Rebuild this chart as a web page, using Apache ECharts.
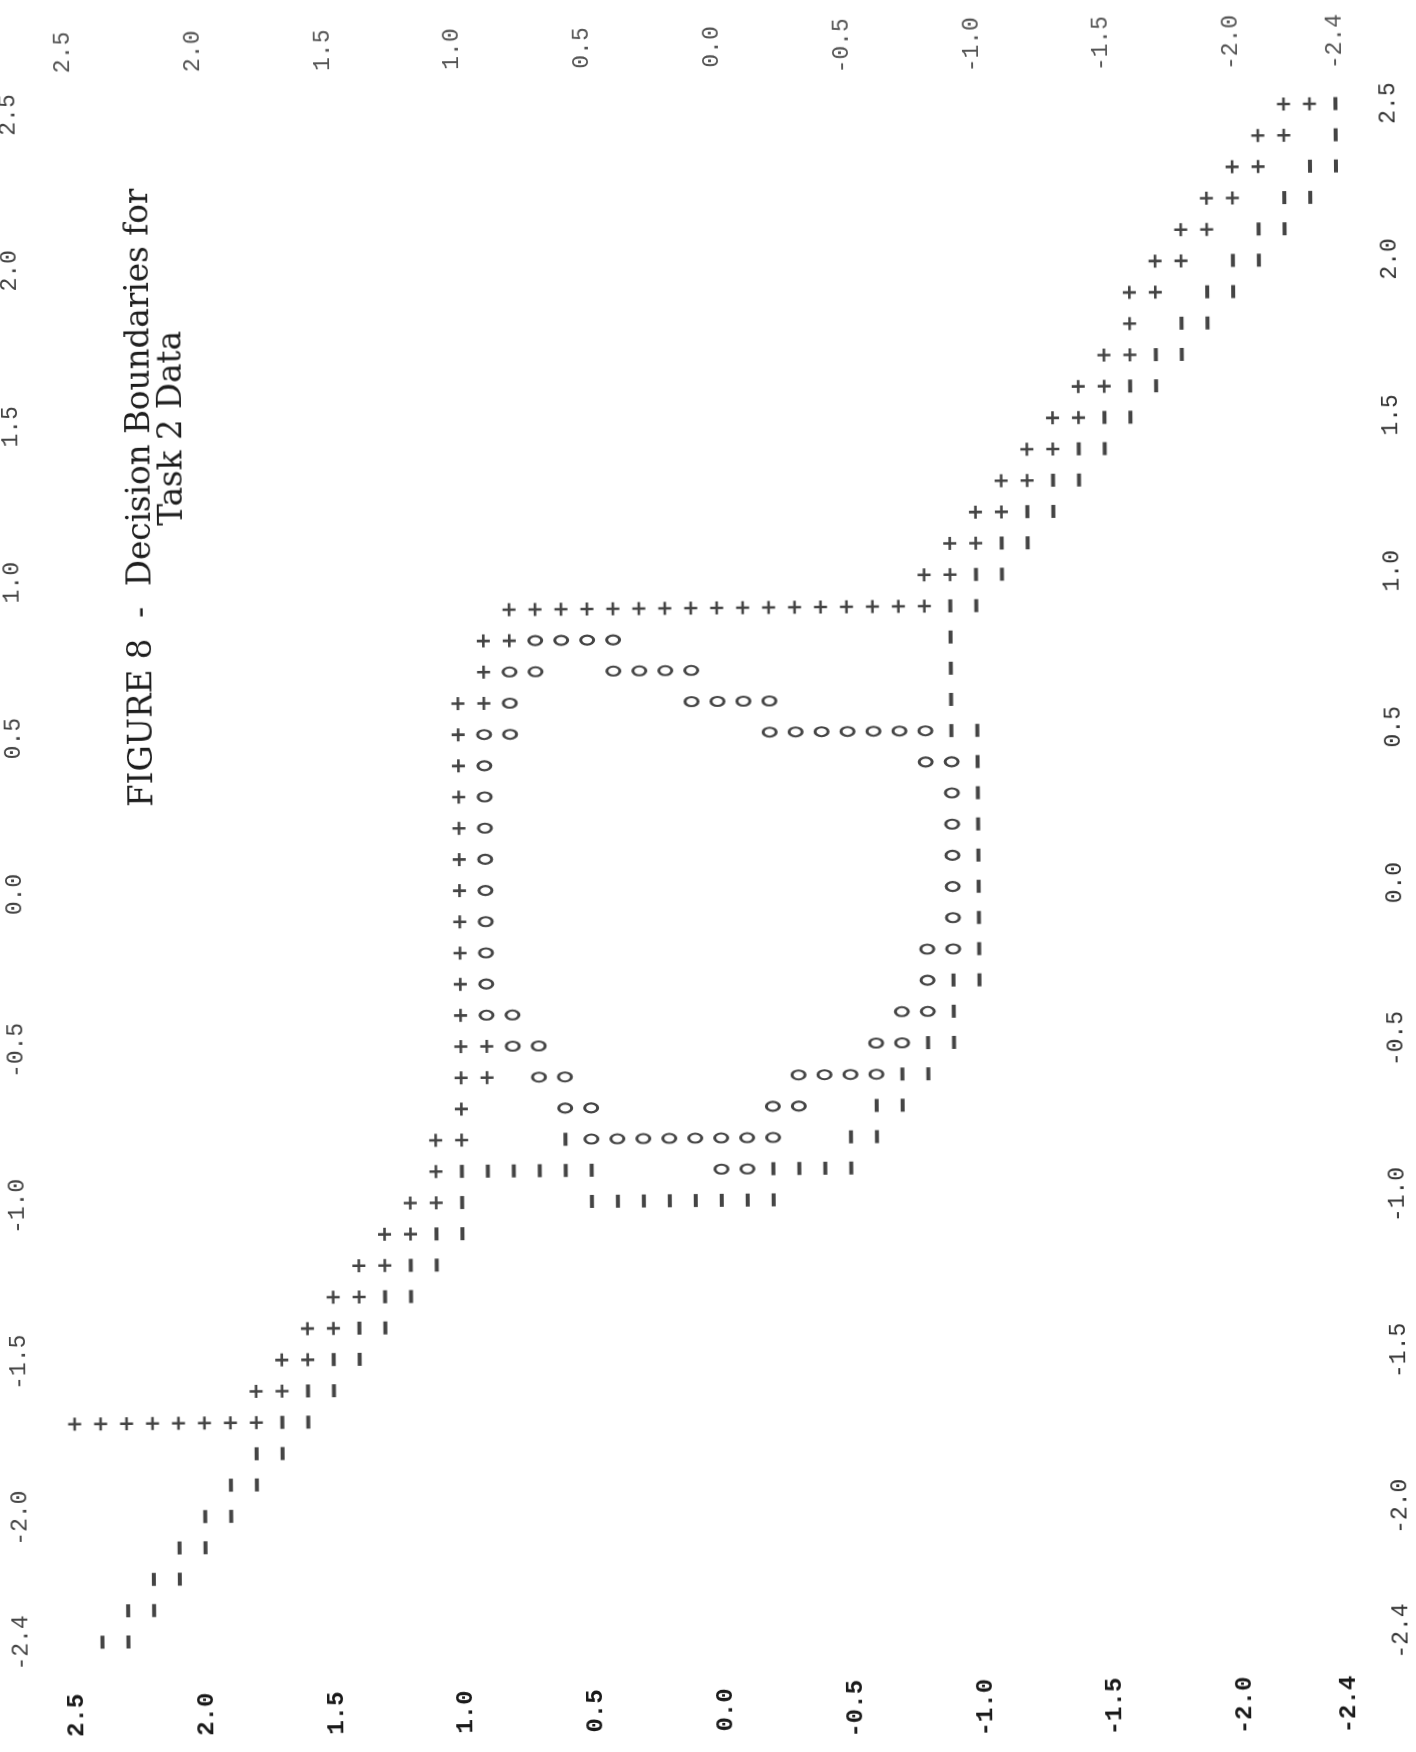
<!DOCTYPE html>
<html>
<head>
<meta charset="utf-8">
<script src="https://cdn.jsdelivr.net/npm/echarts@6/dist/echarts.min.js"></script>
<style>
html,body{margin:0;padding:0;background:#fff;overflow:hidden}
#chart{width:1416px;height:1752px;transform:rotate(-0.49deg);transform-origin:708px 876px}
</style>
</head>
<body>
<div id="chart"></div>
<script>
// Tick labels (same on both axes)
const hTickLabels = [2.5, 2.0, 1.5, 1.0, 0.5, 0.0, -0.5, -1.0, -1.5, -2.0, -2.4];
const vTickLabels = [2.5, 2.0, 1.5, 1.0, 0.5, 0.0, -0.5, -1.0, -1.5, -2.0, -2.4];

const titleLine1 = 'FIGURE 8  -  Decision Boundaries for';
const titleLine2 = 'Task 2 Data';

// Printed cells, by row: [vertical value, [horizontal values]]
const plusRows = [
  [2.5, [-2.2, -2.3]],
  [2.4, [-2.1, -2.2]],
  [2.3, [-2.0, -2.1]],
  [2.2, [-1.9, -2.0]],
  [2.1, [-1.8, -1.9]],
  [2.0, [-1.7, -1.8]],
  [1.9, [-1.6, -1.7]],
  [1.8, [-1.6]],
  [1.7, [-1.5, -1.6]],
  [1.6, [-1.4, -1.5]],
  [1.5, [-1.3, -1.4]],
  [1.4, [-1.2, -1.3]],
  [1.3, [-1.1, -1.2]],
  [1.2, [-1.0, -1.1]],
  [1.1, [-0.9, -1.0]],
  [1.0, [-0.8, -0.9]],
  [0.9, [0.8, 0.7, 0.6, 0.5, 0.4, 0.3, 0.2, 0.1, 0.0, -0.1, -0.2, -0.3, -0.4, -0.5, -0.6, -0.7, -0.8]],
  [0.8, [0.9, 0.8]],
  [0.7, [0.9]],
  [0.6, [1.0, 0.9]],
  [0.5, [1.0]],
  [0.4, [1.0]],
  [0.3, [1.0]],
  [0.2, [1.0]],
  [0.1, [1.0]],
  [0.0, [1.0]],
  [-0.1, [1.0]],
  [-0.2, [1.0]],
  [-0.3, [1.0]],
  [-0.4, [1.0]],
  [-0.5, [1.0, 0.9]],
  [-0.6, [1.0, 0.9]],
  [-0.7, [1.0]],
  [-0.8, [1.1, 1.0]],
  [-0.9, [1.1]],
  [-1.0, [1.2, 1.1]],
  [-1.1, [1.3, 1.2]],
  [-1.2, [1.4, 1.3]],
  [-1.3, [1.5, 1.4]],
  [-1.4, [1.6, 1.5]],
  [-1.5, [1.7, 1.6]],
  [-1.6, [1.8, 1.7]],
  [-1.7, [2.5, 2.4, 2.3, 2.2, 2.1, 2.0, 1.9, 1.8]]
];

const circleRows = [
  [0.8, [0.7, 0.6, 0.5, 0.4]],
  [0.7, [0.8, 0.7, 0.4, 0.3, 0.2, 0.1]],
  [0.6, [0.8, 0.1, 0.0, -0.1, -0.2]],
  [0.5, [0.9, 0.8, -0.2, -0.3, -0.4, -0.5, -0.6, -0.7, -0.8]],
  [0.4, [0.9, -0.8, -0.9]],
  [0.3, [0.9, -0.9]],
  [0.2, [0.9, -0.9]],
  [0.1, [0.9, -0.9]],
  [0.0, [0.9, -0.9]],
  [-0.1, [0.9, -0.9]],
  [-0.2, [0.9, -0.8, -0.9]],
  [-0.3, [0.9, -0.8]],
  [-0.4, [0.9, 0.8, -0.7, -0.8]],
  [-0.5, [0.8, 0.7, -0.6, -0.7]],
  [-0.6, [0.7, 0.6, -0.3, -0.4, -0.5, -0.6]],
  [-0.7, [0.6, 0.5, -0.2, -0.3]],
  [-0.8, [0.5, 0.4, 0.3, 0.2, 0.1, 0.0, -0.1, -0.2]],
  [-0.9, [0.0, -0.1]]
];

const minusRows = [
  [2.5, [-2.4]],
  [2.4, [-2.4]],
  [2.3, [-2.3, -2.4]],
  [2.2, [-2.2, -2.3]],
  [2.1, [-2.1, -2.2]],
  [2.0, [-2.0, -2.1]],
  [1.9, [-1.9, -2.0]],
  [1.8, [-1.8, -1.9]],
  [1.7, [-1.7, -1.8]],
  [1.6, [-1.6, -1.7]],
  [1.5, [-1.5, -1.6]],
  [1.4, [-1.4, -1.5]],
  [1.3, [-1.3, -1.4]],
  [1.2, [-1.2, -1.3]],
  [1.1, [-1.1, -1.2]],
  [1.0, [-1.0, -1.1]],
  [0.9, [-0.9, -1.0]],
  [0.8, [-0.9]],
  [0.7, [-0.9]],
  [0.6, [-0.9]],
  [0.5, [-0.9, -1.0]],
  [0.4, [-1.0]],
  [0.3, [-1.0]],
  [0.2, [-1.0]],
  [0.1, [-1.0]],
  [0.0, [-1.0]],
  [-0.1, [-1.0]],
  [-0.2, [-1.0]],
  [-0.3, [-0.9, -1.0]],
  [-0.4, [-0.9]],
  [-0.5, [-0.8, -0.9]],
  [-0.6, [-0.7, -0.8]],
  [-0.7, [-0.6, -0.7]],
  [-0.8, [0.6, -0.5, -0.6]],
  [-0.9, [1.0, 0.9, 0.8, 0.7, 0.6, 0.5, -0.2, -0.3, -0.4, -0.5]],
  [-1.0, [1.0, 0.5, 0.4, 0.3, 0.2, 0.1, 0.0, -0.1, -0.2]],
  [-1.1, [1.1, 1.0]],
  [-1.2, [1.2, 1.1]],
  [-1.3, [1.3, 1.2]],
  [-1.4, [1.4, 1.3]],
  [-1.5, [1.5, 1.4]],
  [-1.6, [1.6, 1.5]],
  [-1.7, [1.7, 1.6]],
  [-1.8, [1.8, 1.7]],
  [-1.9, [1.9, 1.8]],
  [-2.0, [2.0, 1.9]],
  [-2.1, [2.1, 2.0]],
  [-2.2, [2.2, 2.1]],
  [-2.3, [2.3, 2.2]],
  [-2.4, [2.4, 2.3]]
];

const toPoints = rows => rows.flatMap(([v, hs]) => hs.map(h => [h, v]));

const INK = '#151515';
const tickFont = 'Liberation Mono';
const fmt = v => Number(v).toFixed(1);

// title font size fitted so that line 1 spans the printed length
const titleFamily = '"DejaVu Serif"';
function fitSize(text, family, target) {
  const ctx = document.createElement('canvas').getContext('2d');
  ctx.font = '100px ' + family;
  const w = ctx.measureText(text).width;
  return w > 0 ? Math.round(1000 * target / w) / 10 : 32;
}
const titleSize = fitSize(titleLine1, titleFamily, 619);

function labelCfg(values, margin, size, color, weight) {
  return {
    customValues: values,
    formatter: fmt,
    rotate: 90,
    align: 'center',
    verticalAlign: 'middle',
    margin: margin,
    fontFamily: tickFont,
    fontSize: size,
    fontWeight: weight,
    color: color,
    showMinLabel: true,
    showMaxLabel: true
  };
}

const hidden = { show: false };

const chart = echarts.init(document.getElementById('chart'), null, { renderer: 'canvas' });
chart.setOption({
  animation: false,
  backgroundColor: '#ffffff',
  grid: { left: 70, right: 74, top: 109, bottom: 115, containLabel: false, outerBoundsMode: 'none' },
  xAxis: [
    { type: 'value', min: -2.4, max: 2.5, inverse: true, position: 'bottom',
      axisLine: hidden, axisTick: hidden, splitLine: hidden,
      axisLabel: labelCfg(hTickLabels, 73, 24, '#1a1a1a', 'bold') },
    { type: 'value', min: -2.4, max: 2.5, inverse: true, position: 'top',
      axisLine: hidden, axisTick: hidden, splitLine: hidden,
      axisLabel: labelCfg(hTickLabels, 62, 23, '#555555', 'normal') }
  ],
  yAxis: [
    { type: 'value', min: -2.4, max: 2.5, position: 'left',
      axisLine: hidden, axisTick: hidden, splitLine: hidden,
      axisLabel: labelCfg(vTickLabels, 55, 23, '#444444', 'normal') },
    { type: 'value', min: -2.4, max: 2.5, position: 'right',
      axisLine: hidden, axisTick: hidden, splitLine: hidden,
      axisLabel: labelCfg(vTickLabels, 53, 23, '#333333', 'normal') }
  ],
  graphic: [
    { type: 'text', x: 145, y: 802, rotation: Math.PI / 2,
      style: { text: titleLine1, font: titleSize + 'px ' + titleFamily, fill: '#1e1e1e', align: 'left', verticalAlign: 'middle' } },
    { type: 'text', x: 177, y: 521, rotation: Math.PI / 2,
      style: { text: titleLine2, font: titleSize + 'px ' + titleFamily, fill: '#1e1e1e', align: 'left', verticalAlign: 'middle' } }
  ],
  series: [
    { name: '+', type: 'scatter', xAxisIndex: 0, yAxisIndex: 0, clip: false,
      symbol: 'path://M4,0H6V4H10V6H6V10H4V6H0V4H4Z', symbolSize: 13,
      itemStyle: { color: INK }, data: toPoints(plusRows) },
    { name: 'o', type: 'scatter', xAxisIndex: 0, yAxisIndex: 0, clip: false,
      symbol: 'circle', symbolSize: [13, 9],
      itemStyle: { color: '#ffffff', borderColor: INK, borderWidth: 2.5 }, data: toPoints(circleRows) },
    { name: '-', type: 'scatter', xAxisIndex: 0, yAxisIndex: 0, clip: false,
      symbol: 'rect', symbolSize: [4, 13],
      itemStyle: { color: INK }, data: toPoints(minusRows) }
  ]
});
</script>
</body>
</html>
